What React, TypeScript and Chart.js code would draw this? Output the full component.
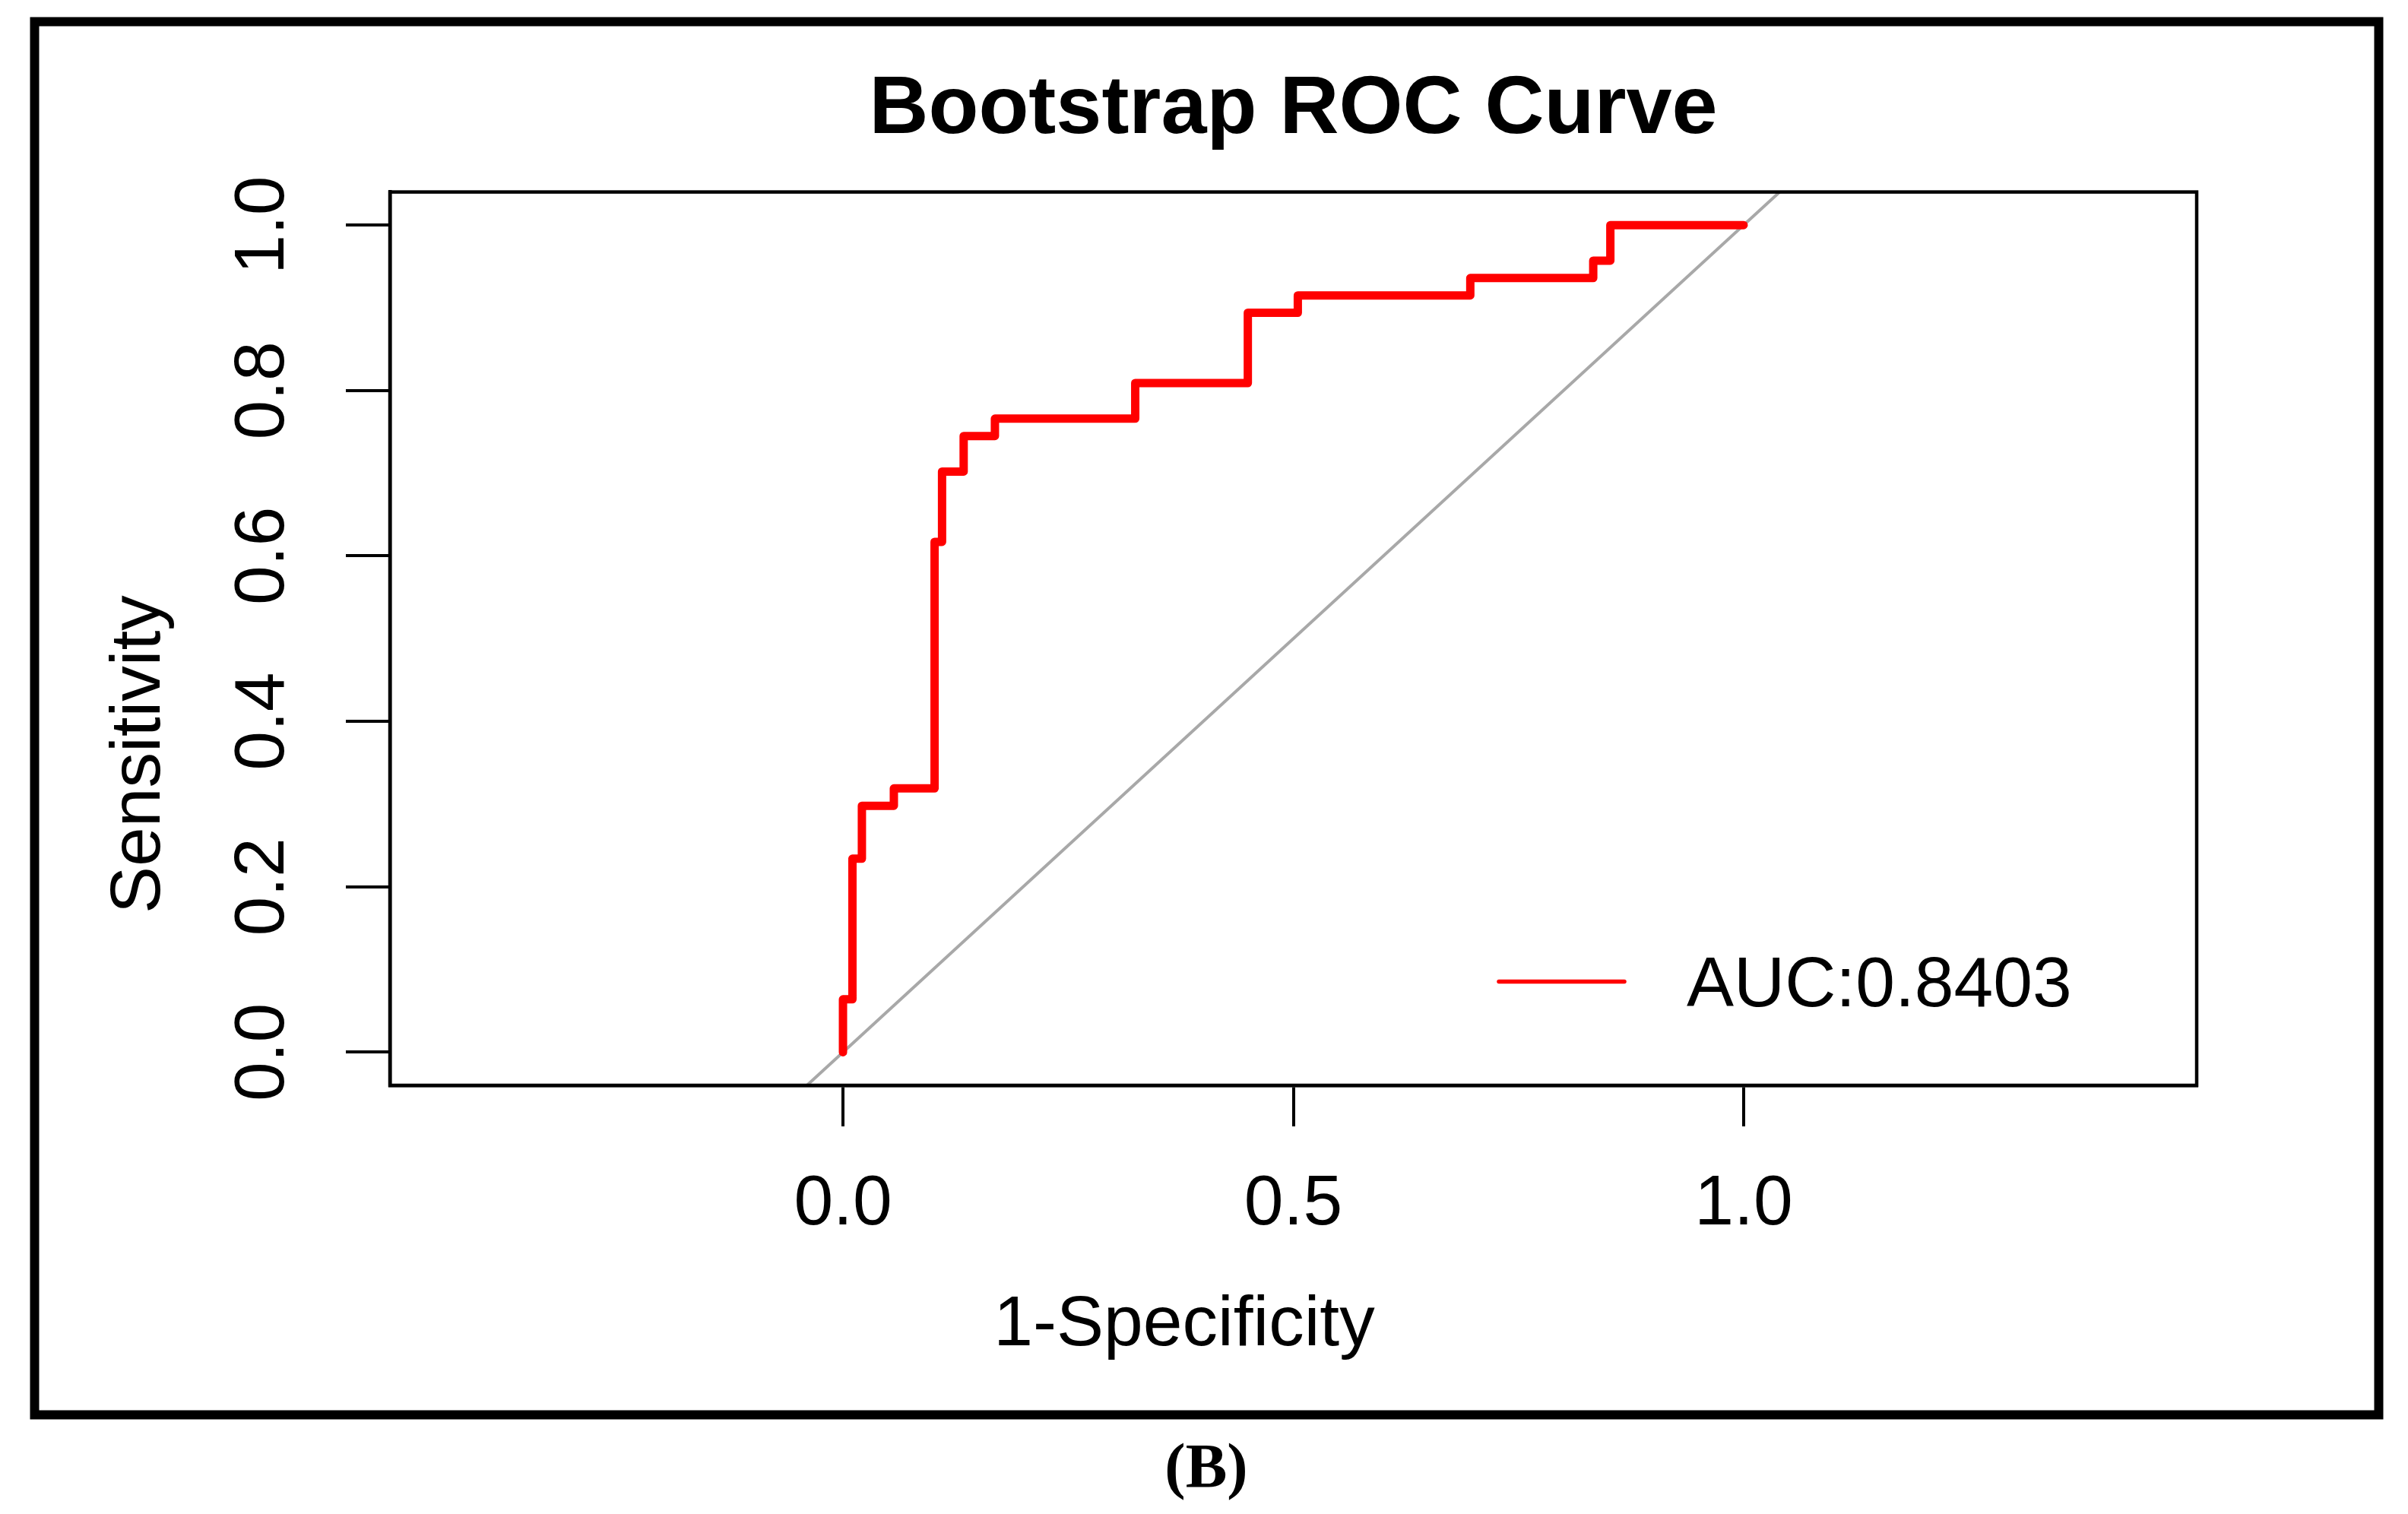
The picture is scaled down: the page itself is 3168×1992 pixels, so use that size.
import React, { useEffect, useRef } from "react";
import { Chart, registerables } from "chart.js";

Chart.register(...registerables);

// ---- data ----
const fpr = [0, 0, 0.0105, 0.021, 0.0565, 0.1017, 0.11, 0.134, 0.1687, 0.3245, 0.4495, 0.505, 0.6965, 0.833, 0.852, 1.0];
const tpr = [0, 0.064, 0.234, 0.298, 0.319, 0.617, 0.702, 0.745, 0.766, 0.809, 0.894, 0.915, 0.936, 0.957, 1.0, 1.0];
const refLine = [-0.1, 1.1];
const xTicks = [0, 0.5, 1];
const yTicks = [0, 0.2, 0.4, 0.6, 0.8, 1];
const aucLabel = "AUC:0.8403";
const titleText = "Bootstrap ROC Curve";
const xTitle = "1-Specificity";
const yTitle = "Sensitivity";
const panelLabel = "(B)";

const SANS = '"Liberation Sans", Arial, Helvetica, sans-serif';
const SERIF = '"Liberation Serif", "Times New Roman", serif';
const TXT = 93;

const decorPlugin = {
  id: "decor",
  afterDraw(chart: any) {
    const { ctx, chartArea: a } = chart;
    ctx.save();
    // plot box
    ctx.strokeStyle = "#000";
    ctx.lineWidth = 4.5;
    ctx.strokeRect(a.left, a.top, a.right - a.left, a.bottom - a.top);
    // outer frame
    ctx.lineWidth = 12;
    ctx.strokeRect(45.5, 28.5, 3084, 1833);
    // axis titles
    ctx.fillStyle = "#000";
    ctx.font = `${TXT}px ${SANS}`;
    ctx.textAlign = "center";
    ctx.textBaseline = "alphabetic";
    ctx.fillText(xTitle, a.left + 1045, a.bottom + 342);
    ctx.save();
    ctx.translate(a.left - 303, a.top + 740);
    ctx.rotate(-Math.PI / 2);
    ctx.fillText(yTitle, 0, 0);
    ctx.restore();
    // legend
    const ds = chart.data.datasets[0];
    ctx.strokeStyle = ds.borderColor;
    ctx.lineWidth = 5.5;
    ctx.lineCap = "round";
    ctx.beginPath();
    ctx.moveTo(a.left + 1459, a.top + 1039);
    ctx.lineTo(a.left + 1624, a.top + 1039);
    ctx.stroke();
    ctx.textAlign = "left";
    ctx.fillText(ds.label, a.left + 1706, a.top + 1071);
    // panel label
    ctx.font = `bold 82px ${SERIF}`;
    ctx.textAlign = "center";
    ctx.fillText(panelLabel, 1587, 1956);
    ctx.restore();
  },
};

export default function App() {
  const ref = useRef<HTMLCanvasElement | null>(null);

  useEffect(() => {
    document.body.style.margin = "0";
    const canvas = ref.current;
    if (!canvas) return;
    const chart = new Chart(canvas, {
      type: "line",
      data: {
        datasets: [
          {
            label: aucLabel,
            data: fpr.map((x, i) => ({ x, y: tpr[i] })),
            borderColor: "#FF0000",
            borderWidth: 11,
            stepped: "before",
            pointRadius: 0,
            borderCapStyle: "round",
            borderJoinStyle: "round",
            fill: false,
            tension: 0,
          },
          {
            label: "reference",
            data: refLine.map((v) => ({ x: v, y: v })),
            borderColor: "#A8A8A8",
            borderWidth: 4,
            pointRadius: 0,
            fill: false,
            clip: 0,
          },
        ],
      },
      options: {
        animation: false,
        responsive: false,
        devicePixelRatio: 1,
        layout: { padding: { left: 0, right: 278, top: 0, bottom: 0 } },
        plugins: {
          legend: { display: false },
          tooltip: { enabled: false },
          title: {
            display: true,
            text: titleText,
            fullSize: false,
            color: "#000",
            font: { family: SANS, size: 108, weight: "bold", lineHeight: 1.2 },
            padding: { top: 80, bottom: 43 },
          },
        },
        scales: {
          x: {
            type: "linear",
            position: "bottom",
            min: -0.503,
            max: 1.503,
            afterBuildTicks: (s: any) => {
              s.ticks = xTicks.map((v) => ({ value: v }));
            },
            afterFit: (s: any) => {
              s.height = 564;
            },
            ticks: {
              autoSkip: false,
              maxRotation: 0,
              minRotation: 0,
              padding: 48,
              color: "#000",
              font: { family: SANS, size: TXT, lineHeight: 1.2 },
              callback: (v: any) => Number(v).toFixed(1),
            },
            grid: {
              drawOnChartArea: false,
              drawTicks: true,
              tickLength: 54,
              lineWidth: 4,
              color: "#000",
              tickColor: "#000",
            },
            border: { display: true, color: "#000", width: 4.5 },
          },
          y: {
            type: "linear",
            position: "left",
            min: -0.04,
            max: 1.04,
            afterBuildTicks: (s: any) => {
              s.ticks = yTicks.map((v) => ({ value: v }));
            },
            afterFit: (s: any) => {
              s.width = 513;
            },
            ticks: {
              autoSkip: false,
              minRotation: 90,
              maxRotation: 90,
              crossAlign: "center",
              padding: 43,
              color: "#000",
              font: { family: SANS, size: TXT, lineHeight: 1.2 },
              callback: (v: any) => Number(v).toFixed(1),
            },
            grid: {
              drawOnChartArea: false,
              drawTicks: true,
              tickLength: 58,
              lineWidth: 4,
              color: "#000",
              tickColor: "#000",
            },
            border: { display: true, color: "#000", width: 4.5 },
          },
        },
      } as any,
      plugins: [decorPlugin],
    });
    return () => chart.destroy();
  }, []);

  return (
    <div style={{ width: 3168, height: 1992, background: "#fff" }}>
      <canvas ref={ref} width={3168} height={1992} style={{ display: "block" }} />
    </div>
  );
}
